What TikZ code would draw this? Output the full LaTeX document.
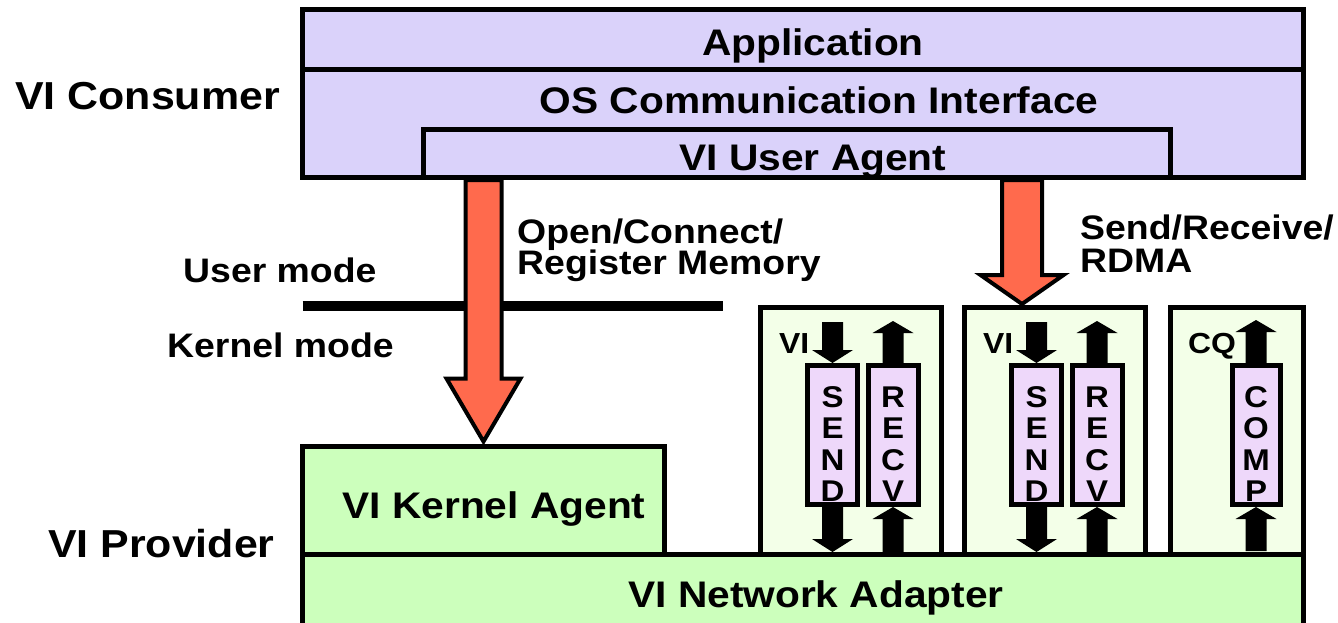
\documentclass[tikz,border=0pt]{standalone}
\usepackage{fontspec}
\newfontfamily\labfont{Liberation Sans}[FakeStretch=1.1]
\usetikzlibrary{calc}

\definecolor{consumer}{RGB}{218,210,250}
\definecolor{adapter}{RGB}{204,255,188}
\definecolor{queuebg}{RGB}{243,255,232}
\definecolor{queuefill}{RGB}{238,216,250}
\definecolor{callred}{RGB}{255,106,77}

% block arrow: #1 style, #2 start, #3 tip, #4 shaft half-width,
% #5 head half-width, #6 head length
\newcommand\blockarrow[6]{%
  \path ($(#3)!#6!(#2)$) coordinate (ba-base);
  \draw[#1] ($(#2)!#4!90:(#3)$) -- ($(ba-base)!#4!90:(#3)$)
    -- ($(ba-base)!#5!90:(#3)$) -- (#3) -- ($(ba-base)!#5!-90:(#3)$)
    -- ($(ba-base)!#4!-90:(#3)$) -- ($(#2)!#4!-90:(#3)$) -- cycle;
}

\begin{document}
\begin{tikzpicture}[x=1pt,y=-1pt,
  panel/.style={draw=black, line width=5pt, inner sep=0pt},
  big/.style={inner sep=0pt, font=\labfont\bfseries\fontsize{37}{40}\selectfont},
  side/.style={inner sep=0pt, font=\labfont\bfseries\fontsize{39}{42}\selectfont},
  note/.style={inner sep=0pt, font=\labfont\bfseries\fontsize{34}{37}\selectfont},
  small/.style={inner sep=0pt, font=\labfont\bfseries\fontsize{29}{31}\selectfont},
  stack/.style={inner sep=0pt, align=center, font=\labfont\bfseries\fontsize{30}{31.5}\selectfont},
  redarrow/.style={draw=black, fill=callred, line width=4pt, line join=miter},
  blackarrow/.style={fill=black, draw=none}]

\useasboundingbox (0,0) rectangle (1338,622);
\clip (0,0) rectangle (1338,622);
\fill[white] (0,0) rectangle (1338,622);

% VI consumer layers
\node[panel, fill=consumer, minimum width=1000.5pt, minimum height=59.5pt] (app) at (802.75,39.25) {};
\node[panel, fill=consumer, minimum width=1000.5pt, minimum height=108.5pt] (os) at (802.75,123.25) {};
\node[panel, fill=consumer, minimum width=747pt, minimum height=48pt] (ua) at (796.5,153.5) {};

% work queues and completion queue
\node[panel, fill=queuebg, minimum width=181pt, minimum height=247pt] (q1) at (851,431) {};
\node[panel, fill=queuebg, minimum width=181pt, minimum height=247pt] (q2) at (1055,431) {};
\node[panel, fill=queuebg, minimum width=132.5pt, minimum height=247pt] (q3) at (1236.75,431) {};

\node[panel, fill=queuefill, minimum width=50pt, minimum height=139pt] (send1) at (832.5,435) {};
\node[panel, fill=queuefill, minimum width=50pt, minimum height=139pt] (recv1) at (893,435) {};
\node[panel, fill=queuefill, minimum width=50pt, minimum height=139pt] (send2) at (1036.5,435) {};
\node[panel, fill=queuefill, minimum width=50pt, minimum height=139pt] (recv2) at (1097,435) {};
\node[panel, fill=queuefill, minimum width=48pt, minimum height=139pt] (comp) at (1256,435) {};

\node[stack] (send1-t) at (832.5,444) {S\\E\\N\\D};
\node[stack] (recv1-t) at (893,444) {R\\E\\C\\V};
\node[stack] (send2-t) at (1036.5,444) {S\\E\\N\\D};
\node[stack] (recv2-t) at (1097,444) {R\\E\\C\\V};
\node[stack] (comp-t) at (1256,444) {C\\O\\M\\P};

% VI provider
\node[panel, fill=adapter, minimum width=362pt, minimum height=108.5pt] (ka) at (483.5,500.25) {};
\node[panel, fill=adapter, minimum width=1000.5pt, minimum height=85.5pt] (na) at (802.75,597.25) {};

% doorbell arrows of the queues
\coordinate (s1top) at (832.5,322);
\coordinate (r1top) at (893,321);
\coordinate (s2top) at (1036.5,322);
\coordinate (r2top) at (1097,321);
\coordinate (cqtop) at (1256,320);
\path (send1.south |- na.north) coordinate (s1bot);
\path (recv1.south |- na.north) coordinate (r1bot);
\path (send2.south |- na.north) coordinate (s2bot);
\path (recv2.south |- na.north) coordinate (r2bot);
\path (comp.south) ++(0,44) coordinate (cqbot);

\blockarrow{blackarrow}{s1top}{send1.north}{10.5pt}{20.5pt}{13pt}
\blockarrow{blackarrow}{recv1.north}{r1top}{10.5pt}{20.5pt}{12pt}
\blockarrow{blackarrow}{send1.south}{s1bot}{10.5pt}{20.5pt}{13pt}
\blockarrow{blackarrow}{r1bot}{recv1.south}{10.5pt}{20.5pt}{12pt}
\blockarrow{blackarrow}{s2top}{send2.north}{10.5pt}{20.5pt}{13pt}
\blockarrow{blackarrow}{recv2.north}{r2top}{10.5pt}{20.5pt}{12pt}
\blockarrow{blackarrow}{send2.south}{s2bot}{10.5pt}{20.5pt}{13pt}
\blockarrow{blackarrow}{r2bot}{recv2.south}{10.5pt}{20.5pt}{12pt}
\blockarrow{blackarrow}{comp.north}{cqtop}{10.5pt}{20.5pt}{12pt}
\blockarrow{blackarrow}{cqbot}{comp.south}{10.5pt}{20.5pt}{12pt}

% user / kernel boundary
\coordinate (mode-l) at (302.5,306);
\coordinate (mode-r) at (723,306);
\draw[line width=10pt] (mode-l) -- (mode-r);

% calls from the user agent
\coordinate (r1s) at (ka.north |- os.south);
\path (ka.north) ++(0,-2) coordinate (r1e);
\coordinate (r2x) at (1022,0);
\coordinate (r2s) at (r2x |- os.south);
\path (r2x |- q2.north) ++(0,-1) coordinate (r2e);
\blockarrow{redarrow}{r1s}{r1e}{18pt}{37pt}{63pt}
\blockarrow{redarrow}{r2s}{r2e}{20pt}{41.5pt}{29pt}

% labels
\node[big, anchor=base] (t-app) at (813,55) {Application};
\node[big, anchor=base] (t-os) at (819,113) {OS Communication Interface};
\node[big, anchor=base] (t-ua) at (813,170) {VI User Agent};
\node[big, anchor=base] (t-ka) at (494,518) {VI Kernel Agent};
\node[big, anchor=base] (t-na) at (816,607) {VI Network Adapter};
\node[side, anchor=base west] (t-cons) at (15,109) {VI Consumer};
\node[side, anchor=base west] (t-prov) at (48,557) {VI Provider};
\node[note, anchor=base west] (t-user) at (183,282) {User mode};
\node[note, anchor=base west] (t-kern) at (167,357) {Kernel mode};
\node[note, anchor=base west] (oc1) at (517,243) {Open/Connect/};
\node[note, anchor=base west] (oc2) at (517,274) {Register Memory};
\node[note, anchor=base west] (sr1) at (1080,239) {Send/Receive/};
\node[note, anchor=base west] (sr2) at (1080,272) {RDMA};
\node[small, anchor=base west] (vi1) at (779,353) {VI};
\node[small, anchor=base west] (vi2) at (983,353) {VI};
\node[small, anchor=base west] (cq) at (1188,353) {CQ};
\end{tikzpicture}
\end{document}
